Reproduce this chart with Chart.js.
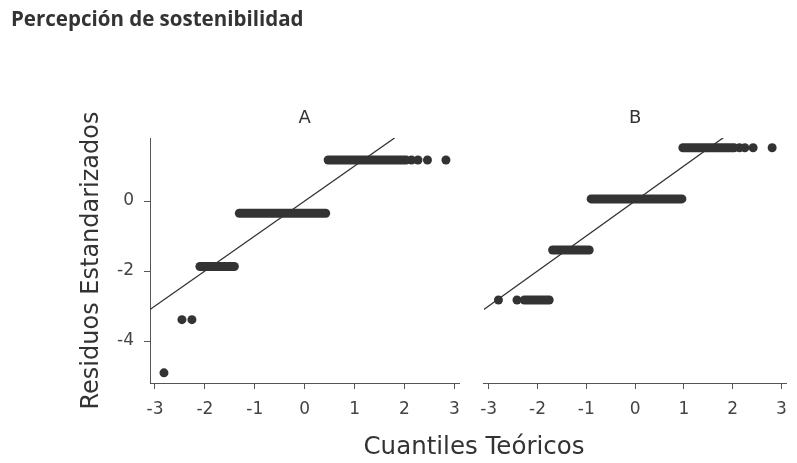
<!DOCTYPE html>
<html>
<head>
<meta charset="utf-8">
<script src="https://cdn.jsdelivr.net/npm/chart.js@4.4.1/dist/chart.umd.min.js"></script>
<style>
	body { margin: 0; background: #fff; }
	#wrap { position: relative; width: 797px; height: 463px; overflow: hidden; background: #fff; }
	#title { position: absolute; left: 11px; top: 8px; font: 700 20.5px/21px 'Open Sans', sans-serif; color: #333; white-space: nowrap; }
	#xtitle { position: absolute; left: 274px; width: 400px; top: 434px; text-align: center; font: 24.5px/24px 'DejaVu Sans', sans-serif; color: #333; white-space: nowrap; }
	#panelA { position: absolute; left: 0; top: 0; width: 470px; height: 463px; }
	#panelB { position: absolute; left: 470px; top: 0; width: 327px; height: 463px; }
</style>
</head>
<body>
<div id="wrap">
	<canvas id="panelA" width="470" height="463"></canvas>
	<canvas id="panelB" width="327" height="463"></canvas>
	<div id="title">Percepción de sostenibilidad</div>
	<div id="xtitle">Cuantiles Teóricos</div>
</div>
<script>
// axis ticks
const xTicks = [-3, -2, -1, 0, 1, 2, 3]
const yTicks = [-4, -2, 0]

// panel A: runs of overlapping points (start x, end x, residual level)
const runFromA = [-2.10, -1.31, 0.47]
const runToA = [-1.41, 0.42, 2.03]
const runLevelA = [-1.87, -0.35, 1.17]
// panel A: single points
const pointXA = [-2.82, -2.46, -2.26, 2.14, 2.27, 2.46, 2.83]
const pointYA = [-4.91, -3.39, -3.39, 1.17, 1.17, 1.17, 1.17]
// panel A: reference line ends
const lineXA = [-3.1, 1.8]
const lineYA = [-3.1, 1.8]

// panel B
const runFromB = [-2.27, -1.69, -0.90, 0.98]
const runToB = [-1.76, -0.94, 0.96, 2.03]
const runLevelB = [-2.83, -1.40, 0.06, 1.52]
const pointXB = [-2.80, -2.42, 2.14, 2.25, 2.42, 2.81]
const pointYB = [-2.83, -2.83, 1.52, 1.52, 1.52, 1.52]
const lineXB = [-3.1, 1.82]
const lineYB = [-3.1, 1.82]

const dark = '#333333'
const axisColor = '#555555'
const tickColor = '#444444'
const family = "'DejaVu Sans', sans-serif"

function buildDatasets(runFrom, runTo, runLevel, pointX, pointY, lineX, lineY) {
	const runs = runLevel.map((y, i) => ({
		data: [{ x: runFrom[i], y }, { x: runTo[i], y }],
		showLine: true,
		borderColor: dark,
		borderWidth: 9,
		borderCapStyle: 'round',
		pointRadius: 0,
	}))
	const points = {
		data: pointX.map((x, i) => ({ x, y: pointY[i] })),
		backgroundColor: dark,
		borderWidth: 0,
		pointRadius: 4.5,
	}
	const line = {
		data: lineX.map((x, i) => ({ x, y: lineY[i] })),
		showLine: true,
		borderColor: dark,
		borderWidth: 1.3,
		pointRadius: 0,
	}
	return [...runs, points, line]
}

function makePanel(canvasId, label, datasets, yWidth, padLeft, padRight) {
	const ctx = document.getElementById(canvasId).getContext('2d')
	return new Chart(ctx, {
		type: 'scatter',
		data: { datasets },
		options: {
			responsive: false,
			animation: false,
			events: [],
			layout: { padding: { top: 107.2, left: padLeft, right: padRight, bottom: 0 } },
			plugins: {
				legend: { display: false },
				tooltip: { enabled: false },
				title: {
					display: true,
					text: label,
					fullSize: false,
					color: dark,
					font: { family, size: 18, weight: 'normal' },
					padding: { top: 0, bottom: 9.2 },
				},
			},
			scales: {
				x: {
					type: 'linear',
					min: -3.1,
					max: 3.1,
					afterBuildTicks: s => {
						s.ticks = xTicks.map(v => ({ value: v }))
					},
					afterFit: s => {
						s.height = 80
					},
					grid: { drawOnChartArea: false, drawTicks: true, tickLength: 6, color: axisColor },
					border: { display: true, color: axisColor, width: 1 },
					ticks: { padding: 10, color: tickColor, font: { family, size: 17 } },
				},
				y: {
					type: 'linear',
					display: yWidth > 0,
					min: -5.2,
					max: 1.8,
					afterBuildTicks: s => {
						s.ticks = yTicks.map(v => ({ value: v }))
					},
					afterFit: s => {
						s.width = yWidth
					},
					grid: { drawOnChartArea: false, drawTicks: true, tickLength: 6, color: axisColor },
					border: { display: true, color: axisColor, width: 1 },
					ticks: { padding: 10, color: tickColor, font: { family, size: 17 } },
					title: {
						display: true,
						text: 'Residuos Estandarizados',
						color: dark,
						font: { family, size: 24 },
						padding: { top: 77.6, bottom: 0 },
					},
				},
			},
		},
	})
}

makePanel('panelA', 'A', buildDatasets(runFromA, runToA, runLevelA, pointXA, pointYA, lineXA, lineYA), 150, 0, 5)
makePanel('panelB', 'B', buildDatasets(runFromB, runToB, runLevelB, pointXB, pointYB, lineXB, lineYB), 0, 10, 3)
</script>
</body>
</html>
